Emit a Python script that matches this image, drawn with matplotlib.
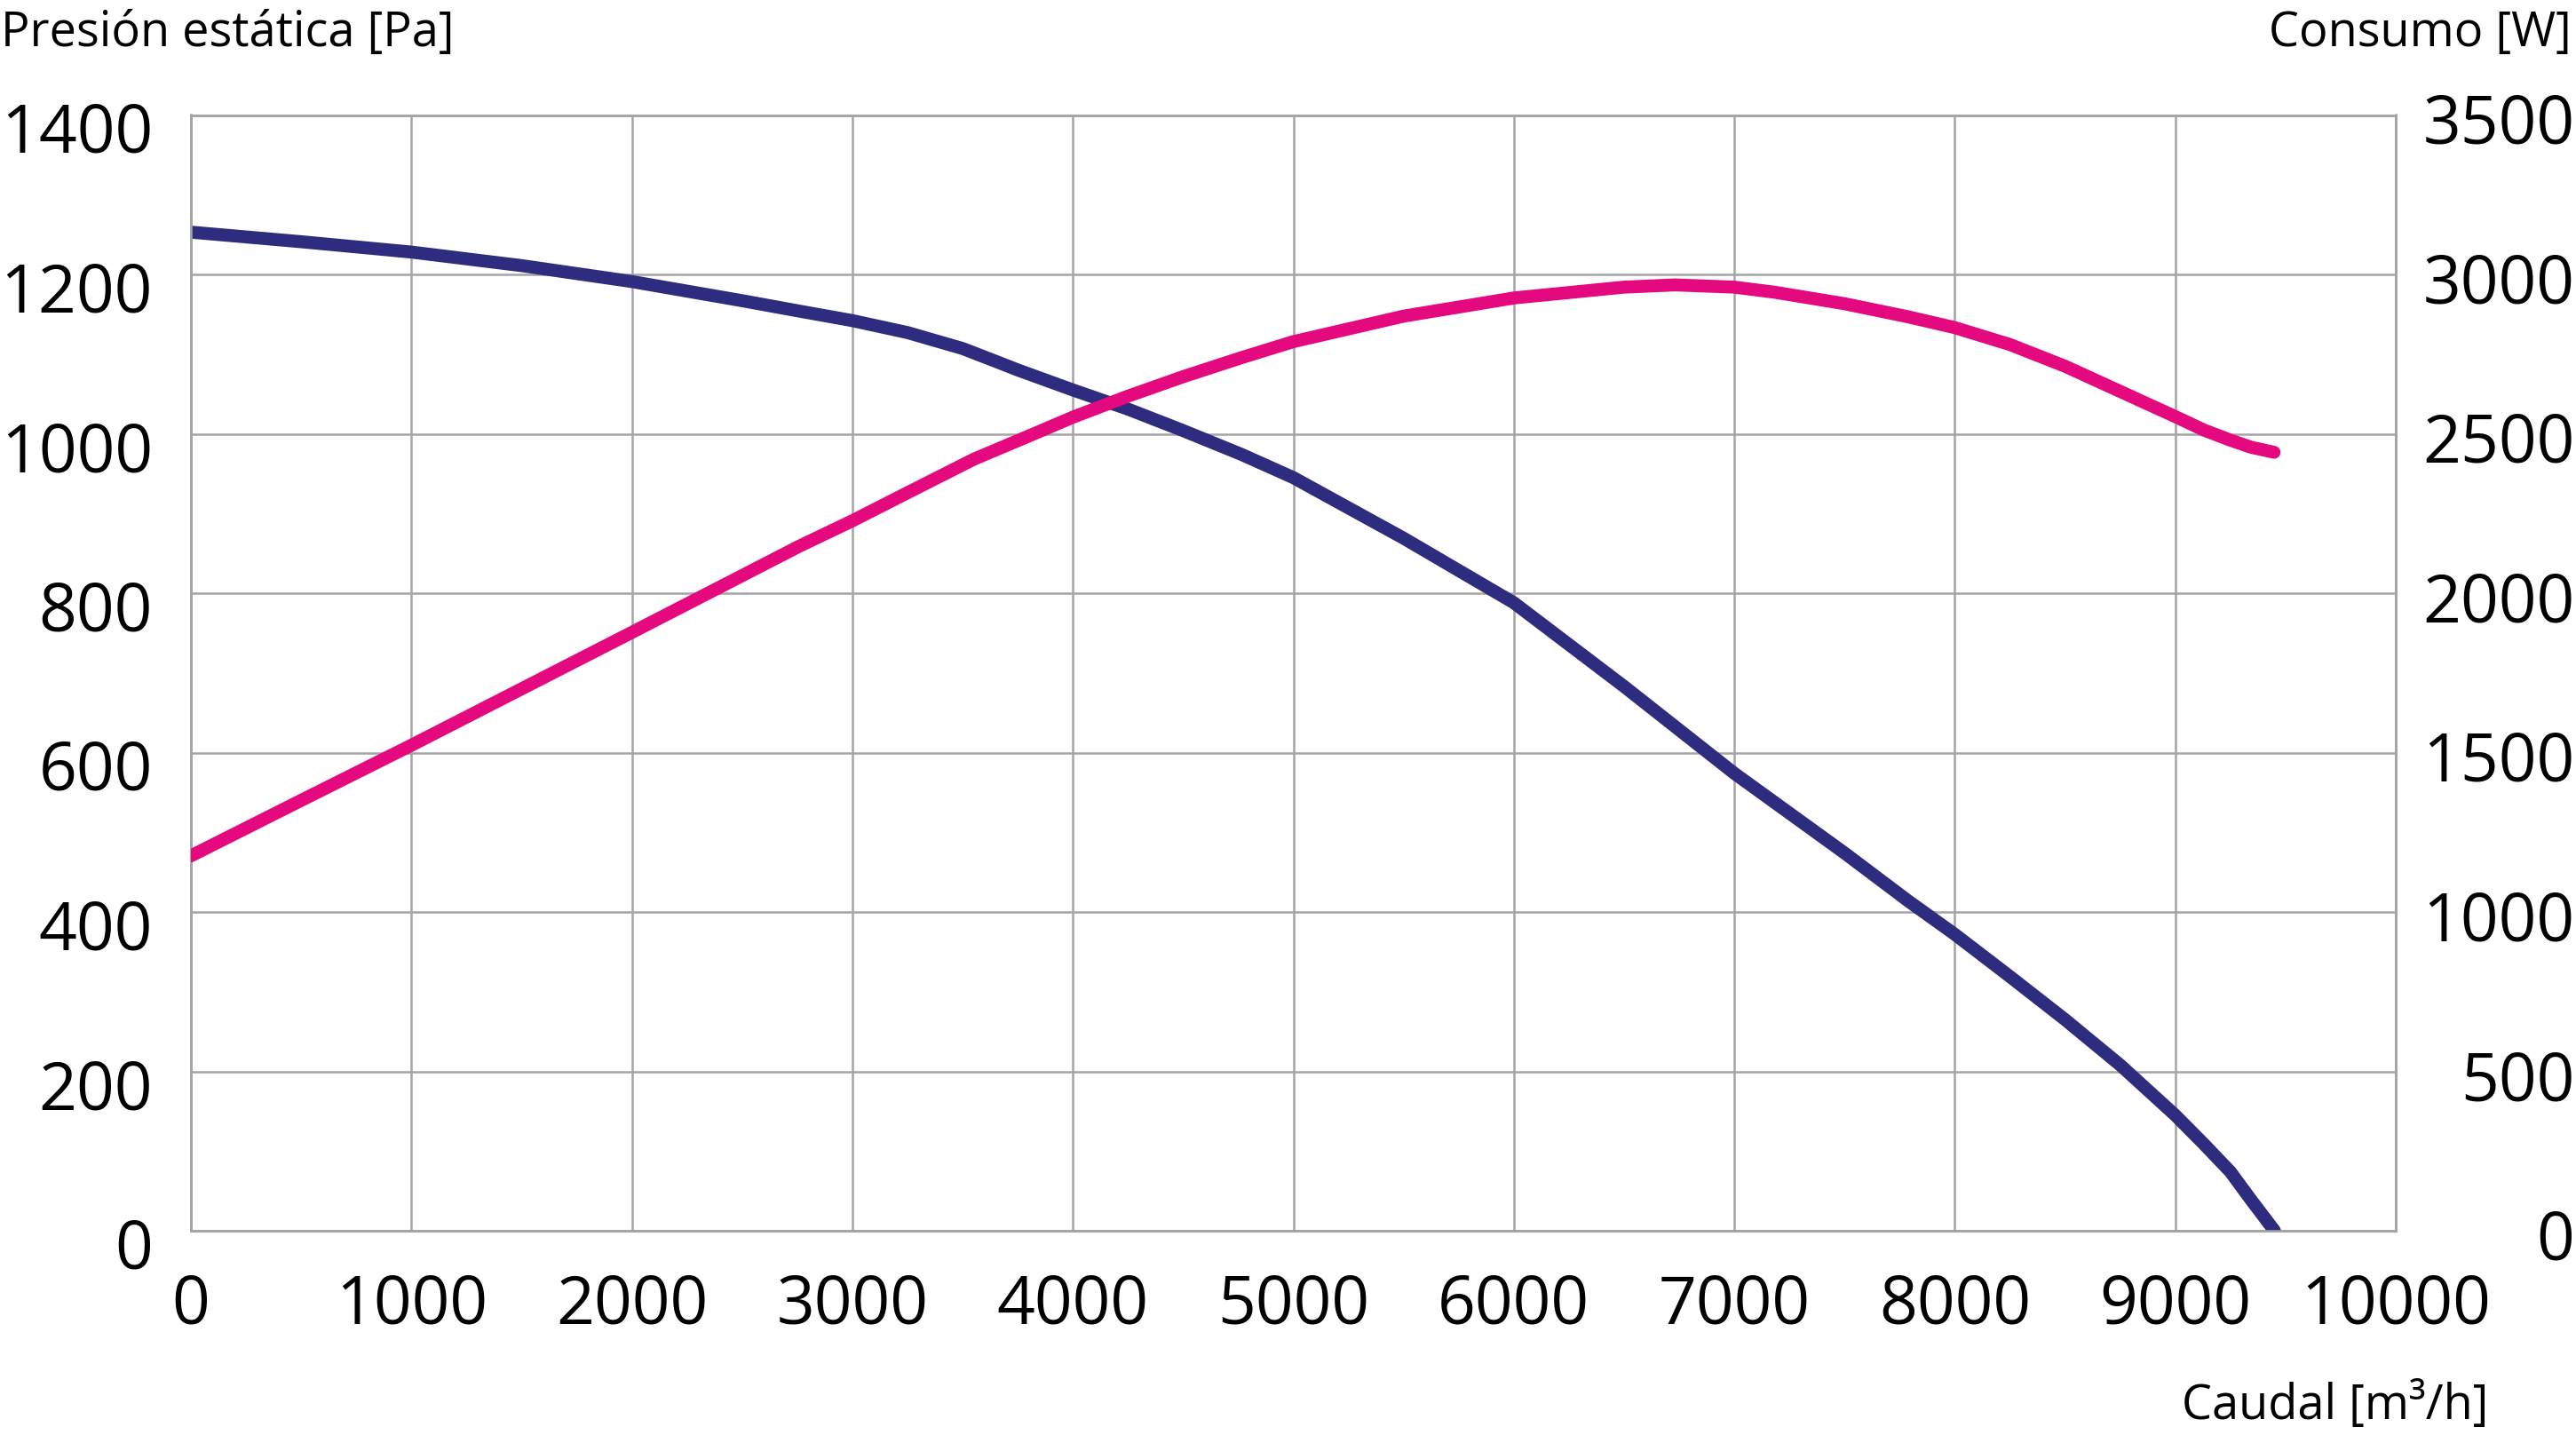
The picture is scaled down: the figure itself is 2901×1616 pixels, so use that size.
import matplotlib
matplotlib.use("Agg")
import matplotlib.pyplot as plt
import matplotlib.transforms as mtransforms

plt.rcParams['font.family'] = ['Open Sans', 'DejaVu Sans']

# ---- data ----
flow_p = [0, 500, 1000, 1500, 2000, 2500, 2758, 3000, 3250, 3500, 3668, 3751,
          4000, 4250, 4500, 4766, 5000, 5500, 6000, 6500, 7000, 7500, 7788,
          8000, 8250, 8500, 8750, 9000, 9129, 9250, 9343, 9450]
pressure = [1253, 1241, 1228, 1211, 1191, 1167, 1154, 1142, 1127, 1107, 1089, 1080,
            1055, 1031, 1004, 974, 945, 869, 788, 683, 574, 474, 414,
            372, 319, 265, 208, 145, 109, 74, 39, 0]

flow_w = [0, 500, 1000, 1500, 2000, 2500, 2758, 3000, 3250, 3550, 3800,
          4000, 4250, 4500, 4766, 5000, 5500, 6000, 6500, 6731, 7000, 7183,
          7500, 7788, 8000, 8250, 8500, 8750, 9000, 9129, 9250, 9343, 9448]
power = [1176, 1350, 1523, 1700, 1877, 2055, 2147, 2227, 2315, 2420, 2493,
         2552, 2618, 2679, 2739, 2789, 2869, 2926, 2960, 2967, 2960, 2944,
         2908, 2867, 2833, 2780, 2712, 2633, 2554, 2512, 2480, 2458, 2442]

x_ticks = list(range(0, 10001, 1000))
yl_ticks = list(range(0, 1401, 200))
yr_ticks = list(range(0, 3501, 500))

title_left = "Presión estática [Pa]"
title_right = "Consumo [W]"
x_label = "Caudal [m³/h]"

blue = "#2e2c7e"
pink = "#e5097f"
grid_c = "#a4a4a4"

W, H = 2901, 1616
fig = plt.figure(figsize=(W / 100, H / 100), dpi=100)
L, R, T, B = 215, 2698, 129.5, 1386
ax = fig.add_axes([L / W, 1 - B / H, (R - L) / W, (B - T) / H])
ax2 = ax.twinx()

ax.set_xlim(0, 10000)
ax.set_ylim(0, 1400)
ax2.set_ylim(0, 3500)
ax.set_xticks(x_ticks)
ax.set_yticks(yl_ticks)
ax2.set_yticks(yr_ticks)

ax.grid(True, color=grid_c, linewidth=1.8)
ax.set_axisbelow(True)
for a in (ax, ax2):
    for s in a.spines.values():
        s.set_color(grid_c)
        s.set_linewidth(1.8)

ax.plot(flow_p, pressure, color=blue, lw=10.5, solid_capstyle='round',
        solid_joinstyle='round', zorder=3)
ax2.plot(flow_w, power, color=pink, lw=10.5, solid_capstyle='round',
         solid_joinstyle='round', zorder=3)

fs = 54
ax.tick_params(axis='x', length=0, pad=34, labelsize=fs)
ax.tick_params(axis='y', length=0, pad=31, labelsize=fs)
ax2.tick_params(axis='y', length=0, pad=145, labelsize=fs)

off_l = mtransforms.ScaledTranslation(0, -14 / 100, fig.dpi_scale_trans)
for lab in ax.get_yticklabels():
    lab.set_transform(lab.get_transform() + off_l)
off_r = mtransforms.ScaledTranslation(0, -4 / 100, fig.dpi_scale_trans)
for lab in ax2.get_yticklabels():
    lab.set_horizontalalignment('right')
    lab.set_transform(lab.get_transform() + off_r)

tfs = 39
fig.text(1 / W, 1 - 52 / H, title_left, fontsize=tfs, ha='left', va='baseline')
fig.text(2896 / W, 1 - 52 / H, title_right, fontsize=tfs, ha='right', va='baseline')
fig.text(2802 / W, 1 - 1598 / H, x_label, fontsize=tfs, ha='right', va='baseline')

fig.savefig("out.png", dpi=100)
